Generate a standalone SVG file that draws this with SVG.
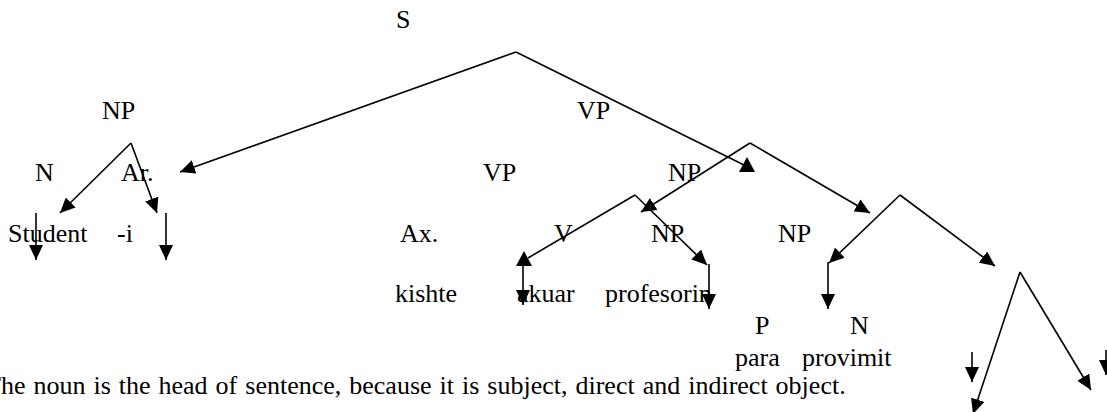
<svg xmlns="http://www.w3.org/2000/svg" width="1107" height="412" viewBox="0 0 1107 412">
<style>
text{font-family:"Liberation Serif","Times New Roman",serif;font-size:26px;fill:#000}
.c line{stroke:#000;stroke-width:1.6;fill:none}
.c line.a{marker-end:url(#ah)}
.c polygon{fill:#000}
</style>
<defs>
<marker id="ah" viewBox="0 0 15 14" refX="15" refY="7" markerWidth="15" markerHeight="14" markerUnits="userSpaceOnUse" orient="auto">
<path d="M0,0 L15,7 L0,14 z" fill="#000"/>
</marker>
</defs>
<rect width="1107" height="412" fill="#fff"/>
<g id="connectors" class="c">
<line class="a" x1="516" y1="52" x2="180" y2="172"/>
<line x1="516" y1="52" x2="748" y2="167"/>
<polygon points="747,157 739,172 755,172"/>
<line class="a" x1="131" y1="143" x2="60" y2="213"/>
<line class="a" x1="131" y1="143" x2="157" y2="213"/>
<line class="a" x1="36" y1="213" x2="36" y2="260"/>
<line class="a" x1="166" y1="213" x2="166" y2="260"/>
<line class="a" x1="750" y1="143" x2="641" y2="212"/>
<line class="a" x1="750" y1="143" x2="870" y2="213"/>
<line x1="635" y1="195" x2="528" y2="258"/>
<polygon points="524,251 516,266 532,266"/>
<line class="a" x1="635" y1="195" x2="707" y2="265"/>
<line class="a" x1="523" y1="265" x2="523" y2="305"/>
<line class="a" x1="709" y1="264" x2="709" y2="309"/>
<line class="a" x1="900" y1="195" x2="829" y2="263"/>
<line class="a" x1="900" y1="195" x2="995" y2="266"/>
<line class="a" x1="828" y1="262" x2="828" y2="309"/>
<line class="a" x1="1020" y1="272" x2="973" y2="414"/>
<line class="a" x1="1020" y1="272" x2="1091" y2="390"/>
<line class="a" x1="972" y1="352" x2="972" y2="382"/>
<line class="a" x1="1106" y1="350" x2="1106" y2="375"/>
</g>
<g id="n-S"><text x="396" y="28">S</text></g>
<g id="n-NP1"><text x="102" y="119">NP</text></g>
<g id="n-VP1"><text x="577" y="119">VP</text></g>
<g id="n-N1"><text x="35" y="181">N</text></g>
<g id="n-Ar"><text x="121" y="181">Ar.</text></g>
<g id="n-VP2"><text x="483" y="181">VP</text></g>
<g id="n-NP2"><text x="668" y="181">NP</text></g>
<g id="n-Student"><text x="8" y="242">Student</text></g>
<g id="n-i"><text x="117" y="242">-i</text></g>
<g id="n-Ax"><text x="400" y="242">Ax.</text></g>
<g id="n-V"><text x="554" y="242">V</text></g>
<g id="n-NP3"><text x="651" y="242">NP</text></g>
<g id="n-NP4"><text x="778" y="242">NP</text></g>
<g id="n-kishte"><text x="395" y="302">kishte</text></g>
<g id="n-akuar"><text x="517" y="302">akuar</text></g>
<g id="n-profesorin"><text x="605" y="302">profesorin</text></g>
<g id="n-P"><text x="755" y="334">P</text></g>
<g id="n-N2"><text x="850" y="334">N</text></g>
<g id="n-para"><text x="735" y="366">para</text></g>
<g id="n-provimit"><text x="802" y="366">provimit</text></g>
<g id="note"><text x="-15" y="394" style="word-spacing:1.5px">The noun is the head of sentence, because it is subject, direct and indirect object.</text></g>
</svg>
